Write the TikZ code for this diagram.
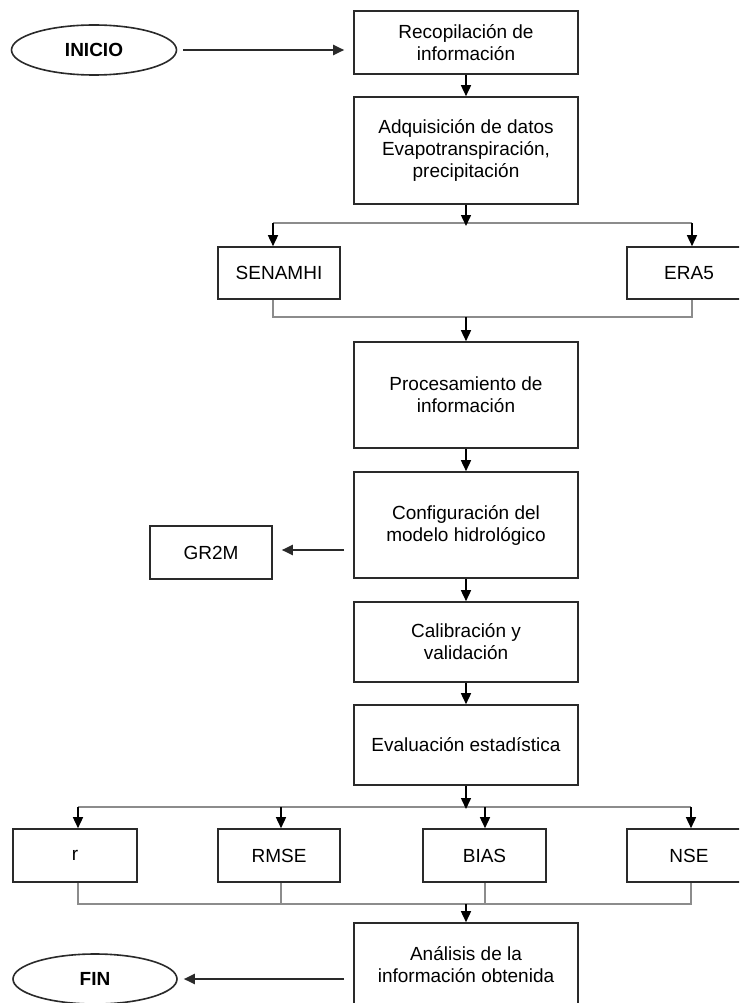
\documentclass[tikz,border=0pt]{standalone}
\usepackage{fontspec}
\setmainfont{Liberation Sans}
\usetikzlibrary{arrows.meta,shapes.geometric}
\definecolor{boxline}{HTML}{2A2A2A}
\definecolor{joinline}{HTML}{8C8C8C}
\tikzset{
  stepbox/.style={draw=boxline, line width=1.6pt, fill=white, rectangle, align=center,
    inner sep=0pt, font=\fontsize{19}{22}\selectfont},
  termbox/.style={draw=boxline, line width=1.6pt, ellipse, inner sep=0pt,
    minimum width=165pt, minimum height=50pt, font=\fontsize{19}{22}\selectfont\bfseries},
  arr/.style={draw=black, line width=1.5pt, -{Triangle[length=11pt,width=10pt]}},
  longarr/.style={draw=boxline, line width=2pt, -{Triangle[length=11pt,width=10pt]}},
  joinln/.style={draw=joinline, line width=1.3pt}
}
\begin{document}
\begin{tikzpicture}[x=1pt,y=-1pt]
\path[use as bounding box, clip] (0,0) rectangle (739,1003);
\fill[white] (0,0) rectangle (739,1003);

% nodes
\node[termbox] (inicio) at (94,50) {INICIO};
\node[stepbox, minimum width=224pt, minimum height=63pt] (rec) at (466,42.5) {Recopilación de\\información};
\node[stepbox, minimum width=224pt, minimum height=107pt] (adq) at (466,150.5) {Adquisición de datos\\Evapotranspiración,\\precipitación};
\node[stepbox, minimum width=122pt, minimum height=52pt] (sen) at (279,273) {SENAMHI};
\node[stepbox, minimum width=124pt, minimum height=52pt] (era) at (689,273) {ERA5};
\node[stepbox, minimum width=224pt, minimum height=106pt] (proc) at (466,395) {Procesamiento de\\información};
\node[stepbox, minimum width=224pt, minimum height=106pt] (conf) at (466,525) {Configuración del\\modelo hidrológico};
\node[stepbox, minimum width=122pt, minimum height=53pt] (gr) at (211,552.5) {GR2M};
\node[stepbox, minimum width=224pt, minimum height=80pt] (cal) at (466,642) {Calibración y\\validación};
\node[stepbox, minimum width=224pt, minimum height=80pt] (eval) at (466,745) {Evaluación estadística};
\node[stepbox, minimum width=124pt, minimum height=53pt] (r) at (75,855.5) {r};
\node[stepbox, minimum width=122pt, minimum height=53pt] (rmse) at (279,855.5) {RMSE};
\node[stepbox, minimum width=123pt, minimum height=53pt] (bias) at (484.5,855.5) {BIAS};
\node[stepbox, minimum width=124pt, minimum height=53pt] (nse) at (689,855.5) {NSE};
\node[stepbox, minimum width=224pt, minimum height=84pt] (ana) at (466,965) {Análisis de la\\información obtenida};
\node[termbox, minimum width=164pt] (fin) at (95,979) {FIN};

% coordinates
\coordinate (s1) at (466,226);
\coordinate (sL) at (273,223);
\coordinate (sR) at (692,223);
\coordinate (m1L) at (273,317);
\coordinate (m1R) at (692,317);
\coordinate (m1) at (466,317);
\coordinate (s2) at (466,809);
\coordinate (s2a) at (78,807);
\coordinate (s2b) at (281,807);
\coordinate (s2c) at (485,807);
\coordinate (s2d) at (691,807);
\coordinate (m2a) at (78,904);
\coordinate (m2b) at (281,904);
\coordinate (m2c) at (485,904);
\coordinate (m2d) at (691,904);
\coordinate (m2) at (466,904);

% connectors
\draw[longarr, shorten <=6pt, shorten >=9pt] (inicio.east) -- (rec.west |- inicio.east);
\draw[arr] (rec.south) -- (adq.north);
\draw[joinln] (sL) -- (sR);
\draw[arr] (adq.south) -- (s1);
\draw[arr] (sL) -- (sL |- sen.north);
\draw[arr] (sR) -- (sR |- era.north);
\draw[joinln] (sL |- sen.south) -- (m1L) -- (m1R) -- (sR |- era.south);
\draw[arr] (m1) -- (proc.north);
\draw[arr] (proc.south) -- (conf.north);
\draw[longarr, shorten <=9pt, shorten >=9pt] (conf.west |- 0,550) -- (gr.east |- 0,550);
\draw[arr] (conf.south) -- (cal.north);
\draw[arr] (cal.south) -- (eval.north);
\draw[joinln] (s2a) -- (s2d);
\draw[arr] (eval.south) -- (s2);
\draw[arr] (s2a) -- (s2a |- r.north);
\draw[arr] (s2b) -- (s2b |- rmse.north);
\draw[arr] (s2c) -- (s2c |- bias.north);
\draw[arr] (s2d) -- (s2d |- nse.north);
\draw[joinln] (m2a |- r.south) -- (m2a) -- (m2d) -- (m2d |- nse.south);
\draw[joinln] (m2b |- rmse.south) -- (m2b);
\draw[joinln] (m2c |- bias.south) -- (m2c);
\draw[arr] (m2) -- (ana.north);
\draw[longarr, shorten <=9pt, shorten >=6pt] (ana.west |- fin) -- (fin.east);
\end{tikzpicture}
\end{document}
